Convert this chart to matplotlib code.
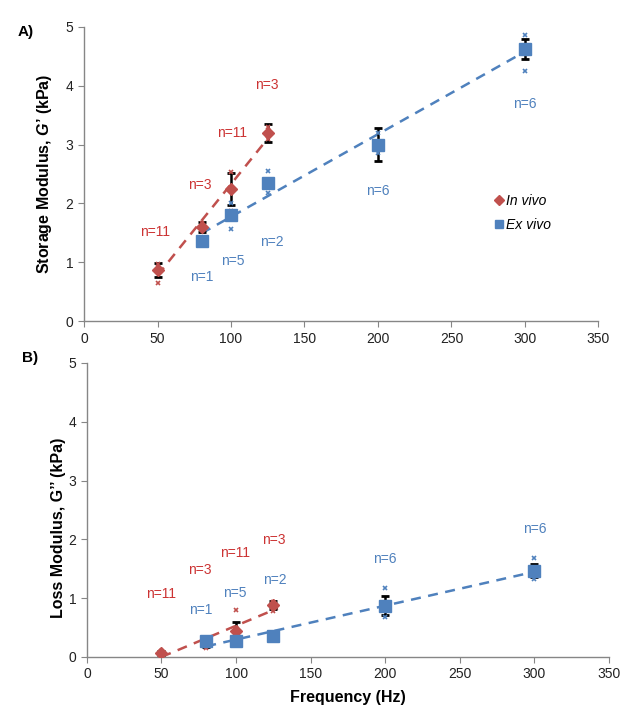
import numpy as np
import matplotlib
matplotlib.use("Agg")
import matplotlib.pyplot as plt

plt.rcParams['font.family'] = ['Liberation Sans', 'DejaVu Sans']
plt.rcParams['mathtext.fontset'] = 'custom'
plt.rcParams['mathtext.it'] = 'Liberation Sans:bold:italic'
plt.rcParams['mathtext.rm'] = 'Liberation Sans:bold'

RED = '#C0504D'
BLUE = '#4F81BD'
LRED = '#CC3333'

# ---- data ----
freq_in = [50, 80, 100, 125]
freq_ex = [80, 100, 125, 200, 300]

# storage modulus G' (kPa)
g1_in = [0.87, 1.60, 2.25, 3.20]
g1_in_err = [0.12, 0.08, 0.27, 0.15]
g1_in_lo = [0.65, 1.55, 1.88, 3.10]
g1_in_hi = [0.97, 1.67, 2.53, 3.30]
g1_ex = [1.37, 1.80, 2.35, 3.00, 4.63]
g1_ex_err = [0.05, 0.08, 0.05, 0.28, 0.17]
g1_ex_lo = [1.33, 1.57, 2.18, 2.85, 4.25]
g1_ex_hi = [1.42, 2.00, 2.55, 3.20, 4.87]

# loss modulus G'' (kPa)
g2_in = [0.07, 0.25, 0.45, 0.88]
g2_in_err = [0.03, 0.08, 0.15, 0.07]
g2_in_lo = [0.03, 0.15, 0.50, 0.78]
g2_in_hi = [0.10, 0.30, 0.80, 0.93]
g2_ex = [0.27, 0.28, 0.35, 0.87, 1.47]
g2_ex_err = [0.09, 0.05, 0.03, 0.16, 0.11]
g2_ex_lo = [0.20, 0.24, 0.32, 0.68, 1.32]
g2_ex_hi = [0.33, 0.33, 0.39, 1.18, 1.68]

# sample-size labels: (text, x, y)
n_in_top = [("n=11", 48, 1.52), ("n=3", 79, 2.31), ("n=11", 101, 3.20), ("n=3", 124.5, 4.01)]
n_ex_top = [("n=1", 80, 0.75), ("n=5", 101, 1.02), ("n=2", 128, 1.35), ("n=6", 200, 2.22), ("n=6", 300, 3.69)]
n_in_bot = [("n=11", 50, 1.07), ("n=3", 76, 1.48), ("n=11", 99, 1.76), ("n=3", 125.5, 1.99)]
n_ex_bot = [("n=1", 76, 0.80), ("n=5", 99, 1.08), ("n=2", 126, 1.31), ("n=6", 200, 1.67), ("n=6", 300, 2.18)]


def trend(ax, xs, ys, color, x0, x1):
    m, c = np.polyfit(xs, ys, 1)
    xx = np.array([x0, x1])
    ax.plot(xx, m * xx + c, '--', color=color, lw=1.8, dashes=(4, 3), zorder=2)


def draw_series(ax, xs, ys, err, lo, hi, color, marker, ms, z):
    ax.errorbar(xs, ys, yerr=err, fmt='none', ecolor='black', elinewidth=1.8,
                capsize=3, capthick=2.0, zorder=z)
    ax.plot(xs, lo, 'x', color=color, ms=3, mew=1.2, zorder=z)
    ax.plot(xs, hi, 'x', color=color, ms=3, mew=1.2, zorder=z)
    return ax.plot(xs, ys, marker, color=color, ms=ms, ls='none', zorder=z + 1)[0]


def style_axes(ax):
    ax.set_xlim(0, 350)
    ax.set_ylim(0, 5)
    ax.set_xticks(range(0, 351, 50))
    ax.set_yticks(range(0, 6))
    for s in ['top', 'right']:
        ax.spines[s].set_visible(False)
    for s in ['left', 'bottom']:
        ax.spines[s].set_color('#868686')
        ax.spines[s].set_linewidth(1.0)
    ax.tick_params(direction='out', length=4, color='#868686', labelsize=10, labelcolor='#222222')


fig = plt.figure(figsize=(6.39, 7.2), dpi=100)
ax1 = fig.add_axes([0.1315, 0.554, 0.805, 0.4085])
ax2 = fig.add_axes([0.136, 0.0875, 0.817, 0.4085])

# ---- A) storage ----
trend(ax1, freq_in, g1_in, RED, 50, 128)
trend(ax1, freq_ex, g1_ex, BLUE, 80, 300)
h_in = draw_series(ax1, freq_in, g1_in, g1_in_err, g1_in_lo, g1_in_hi, RED, 'D', 6.5, 3)
h_ex = draw_series(ax1, freq_ex, g1_ex, g1_ex_err, g1_ex_lo, g1_ex_hi, BLUE, 's', 8, 5)
for t, x, y in n_in_top:
    ax1.text(x, y, t, color=LRED, fontsize=10, ha='center', va='center')
for t, x, y in n_ex_top:
    ax1.text(x, y, t, color=BLUE, fontsize=10, ha='center', va='center')
style_axes(ax1)
ax1.set_ylabel("Storage Modulus, $G$\u2019 (kPa)", fontsize=11.5, fontweight='bold')
ax1.yaxis.set_label_coords(-0.058, 0.5)
leg = ax1.legend([h_in, h_ex], ['In vivo', 'Ex vivo'], loc='upper left',
                 bbox_to_anchor=(0.775, 0.475), frameon=False, handlelength=0.6,
                 handletextpad=0.2, fontsize=10, labelspacing=0.75, markerscale=0.8)
for txt in leg.get_texts():
    txt.set_fontstyle('italic')
fig.text(0.028, 0.955, "A)", fontsize=11, fontweight='bold', va='center')

# ---- B) loss ----
trend(ax2, freq_in, g2_in, RED, 50, 128)
trend(ax2, freq_ex, g2_ex, BLUE, 80, 300)
draw_series(ax2, freq_in, g2_in, g2_in_err, g2_in_lo, g2_in_hi, RED, 'D', 6.5, 3)
draw_series(ax2, freq_ex, g2_ex, g2_ex_err, g2_ex_lo, g2_ex_hi, BLUE, 's', 8, 5)
for t, x, y in n_in_bot:
    ax2.text(x, y, t, color=LRED, fontsize=10, ha='center', va='center')
for t, x, y in n_ex_bot:
    ax2.text(x, y, t, color=BLUE, fontsize=10, ha='center', va='center')
style_axes(ax2)
ax2.set_ylabel("Loss Modulus, G\u2019\u2019 (kPa)", fontsize=11.5, fontweight='bold')
ax2.yaxis.set_label_coords(-0.04, 0.44)
ax2.set_xlabel("Frequency (Hz)", fontsize=11.5, fontweight='bold', labelpad=6)
fig.text(0.034, 0.503, "B)", fontsize=11, fontweight='bold', va='center')

fig.savefig("out.png", dpi=100)
